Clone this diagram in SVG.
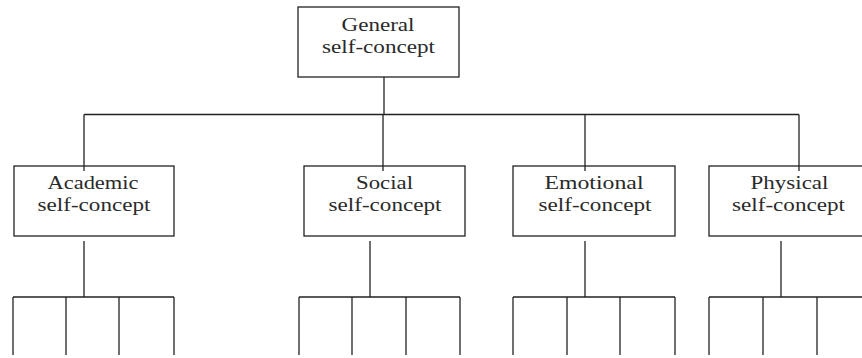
<svg xmlns="http://www.w3.org/2000/svg" width="862" height="358" viewBox="0 0 862 358">
<style>
.box{fill:#fff;stroke:#222;stroke-width:1.3}
.lbl{font-family:"Liberation Serif","Times New Roman",serif;font-size:19.5px;fill:#2a2a2a;text-anchor:middle}
.con line{stroke:#222;stroke-width:1.3;fill:none}
</style>
<rect x="0" y="0" width="862" height="358" fill="#fff"/>
<g id="general">
<rect class="box" x="298" y="7" width="161" height="70"/>
<text class="lbl" x="378" y="31" textLength="73" lengthAdjust="spacingAndGlyphs">General</text>
<text class="lbl" x="378.5" y="52.5" textLength="113" lengthAdjust="spacingAndGlyphs">self-concept</text>
</g>
<g id="academic">
<rect class="box" x="14" y="166" width="160" height="70"/>
<text class="lbl" x="93" y="189" textLength="91" lengthAdjust="spacingAndGlyphs">Academic</text>
<text class="lbl" x="94" y="210.5" textLength="113" lengthAdjust="spacingAndGlyphs">self-concept</text>
</g>
<g id="social">
<rect class="box" x="304" y="166" width="161" height="70"/>
<text class="lbl" x="384.5" y="189" textLength="57" lengthAdjust="spacingAndGlyphs">Social</text>
<text class="lbl" x="385" y="210.5" textLength="113" lengthAdjust="spacingAndGlyphs">self-concept</text>
</g>
<g id="emotional">
<rect class="box" x="513" y="166" width="162" height="70"/>
<text class="lbl" x="594" y="189" textLength="99" lengthAdjust="spacingAndGlyphs">Emotional</text>
<text class="lbl" x="595" y="210.5" textLength="113" lengthAdjust="spacingAndGlyphs">self-concept</text>
</g>
<g id="physical">
<rect class="box" x="709" y="166" width="160" height="70"/>
<text class="lbl" x="789.5" y="189" textLength="78" lengthAdjust="spacingAndGlyphs">Physical</text>
<text class="lbl" x="788.5" y="210.5" textLength="113" lengthAdjust="spacingAndGlyphs">self-concept</text>
</g>
<g id="connectors" class="con">
<line x1="384" y1="77" x2="384" y2="114.5"/>
<line x1="84" y1="114.5" x2="799" y2="114.5"/>
<line x1="84" y1="114.5" x2="84" y2="171"/>
<line x1="383" y1="114.5" x2="383" y2="171"/>
<line x1="585" y1="114.5" x2="585" y2="171"/>
<line x1="799" y1="114.5" x2="799" y2="171"/>
<line x1="84" y1="241" x2="84" y2="297"/>
<line x1="370" y1="241" x2="370" y2="297"/>
<line x1="585" y1="241" x2="585" y2="297"/>
<line x1="781" y1="241" x2="781" y2="297"/>
<line x1="13" y1="297" x2="174" y2="297"/>
<line x1="299" y1="297" x2="460" y2="297"/>
<line x1="513" y1="297" x2="675" y2="297"/>
<line x1="709" y1="297" x2="862" y2="297"/>
<line x1="13" y1="297" x2="13" y2="355"/>
<line x1="66" y1="297" x2="66" y2="355"/>
<line x1="119" y1="297" x2="119" y2="355"/>
<line x1="174" y1="297" x2="174" y2="355"/>
<line x1="299" y1="297" x2="299" y2="355"/>
<line x1="352" y1="297" x2="352" y2="355"/>
<line x1="406" y1="297" x2="406" y2="355"/>
<line x1="460" y1="297" x2="460" y2="355"/>
<line x1="513" y1="297" x2="513" y2="355"/>
<line x1="567" y1="297" x2="567" y2="355"/>
<line x1="620" y1="297" x2="620" y2="355"/>
<line x1="675" y1="297" x2="675" y2="355"/>
<line x1="709" y1="297" x2="709" y2="355"/>
<line x1="763" y1="297" x2="763" y2="355"/>
<line x1="817" y1="297" x2="817" y2="355"/>
</g>
</svg>
